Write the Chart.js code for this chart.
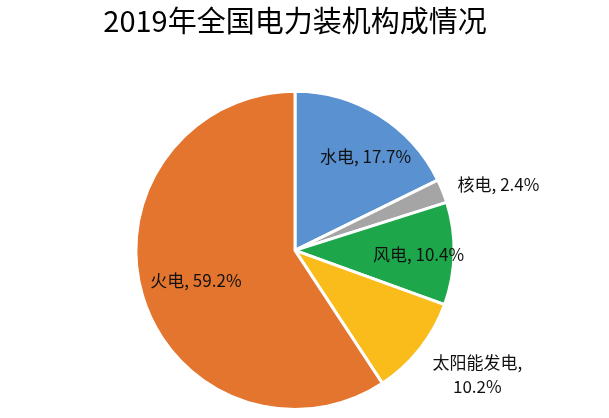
<!DOCTYPE html>
<html>
<head>
<meta charset="utf-8">
<script src="https://cdn.jsdelivr.net/npm/chart.js@4"></script>
<style>
  html, body { margin: 0; padding: 0; background: #fff; }
  #box { width: 609px; height: 418px; }
</style>
</head>
<body>
<div id="box"><canvas id="powerPie"></canvas></div>
<script>
// data
const categories = ["水电", "核电", "风电", "太阳能发电", "火电"];
const shares = [17.7, 2.4, 10.4, 10.2, 59.2];

// looks
const sliceColors = ["#5A91D0", "#A5A5A5", "#1DA64A", "#F9BC1B", "#E3752F"];
const labelRadius = [0.72, 1.27, 0.72, 1.3, 0.65]; // fraction of outer radius
const labelShift = [[10, 3], [16, 9], [9, 2], [20, -4], [0, 0]]; // px nudges
const labelFont = '17px "Noto Sans CJK SC", "Noto Sans", sans-serif';

// draw data labels like Excel ("name, value%")
const pieLabels = {
  id: "pieLabels",
  afterDatasetsDraw(chart) {
    const c = chart.ctx;
    const arcs = chart.getDatasetMeta(0).data;
    c.save();
    c.font = labelFont;
    c.fillStyle = "#111";
    c.textAlign = "center";
    c.textBaseline = "middle";
    arcs.forEach((arc, i) => {
      const p = arc.getProps(["x", "y", "startAngle", "endAngle", "outerRadius"], true);
      const mid = (p.startAngle + p.endAngle) / 2;
      const r = p.outerRadius * labelRadius[i];
      const x = p.x + Math.cos(mid) * r + labelShift[i][0];
      const y = p.y + Math.sin(mid) * r + labelShift[i][1];
      if (categories[i].length > 3) {
        // long name wraps onto two lines
        c.fillText(categories[i] + ",", x, y - 12);
        c.fillText(shares[i].toFixed(1) + "%", x, y + 12);
      } else {
        c.fillText(categories[i] + ", " + shares[i].toFixed(1) + "%", x, y);
      }
    });
    c.restore();
  }
};

const ctx = document.getElementById("powerPie");
new Chart(ctx, {
  type: "pie",
  data: {
    labels: categories,
    datasets: [{
      data: shares,
      backgroundColor: sliceColors,
      borderColor: "#ffffff",
      borderWidth: 3
    }]
  },
  options: {
    responsive: true,
    maintainAspectRatio: false,
    animation: false,
    layout: { padding: { top: 0, bottom: 7, left: 0, right: 19 } },
    plugins: {
      legend: { display: false },
      tooltip: { enabled: false },
      title: {
        display: true,
        text: "2019年全国电力装机构成情况",
        color: "#000",
        font: { family: '"Noto Sans CJK SC", sans-serif', size: 29, weight: "normal", lineHeight: 1.2 },
        padding: { top: 4, bottom: 51 }
      }
    }
  },
  plugins: [pieLabels]
});
</script>
</body>
</html>
